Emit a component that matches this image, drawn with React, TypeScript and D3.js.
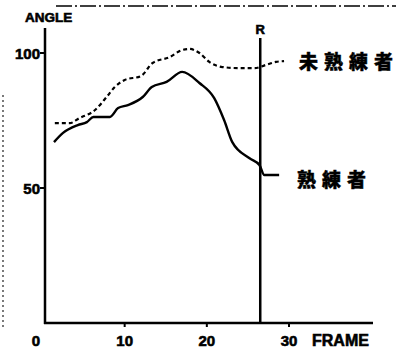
import React from "react";
import * as d3 from "d3";

const skilledFrames = [1.4, 2.5, 4.3, 5.4, 6.2, 8.2, 9.2, 10.4, 12.2, 13.3, 15.1, 17, 19.1, 20.9, 22.1, 23.1, 25.2, 26.4, 27, 28.8];
const skilledAngles = [67, 70.4, 73.3, 74.4, 76.3, 76.3, 79.6, 80.7, 83.7, 87.4, 89.3, 93, 88.9, 83.3, 75.2, 67, 61, 58.5, 54.8, 54.8];

const unskilledFrames = [1.5, 3.3, 4.5, 6.4, 7.8, 8.8, 10, 12, 13.4, 15.5, 16.9, 17.9, 19.1, 20.3, 21.9, 23.9, 25.8, 27.2, 28.4, 29.4];
const unskilledAngles = [74, 74, 75.9, 78.9, 83.7, 87.4, 90, 91.5, 96.3, 98.5, 101, 101.5, 100, 96.7, 94.8, 94.4, 94.4, 95.6, 96.7, 97];

const xTicks = [0, 10, 20, 30];
const yTicks = [50, 100];
const releaseFrame = 26.5;
const seriesLabels = ["未熟練者", "熟練者"];

export default function App() {
  const x = d3.scaleLinear().domain([0, 30]).range([42.5, 289]);
  const y = d3.scaleLinear().domain([0, 100]).range([323, 53]);
  const line = d3
    .line<[number, number]>()
    .x((d) => x(d[0]))
    .y((d) => y(d[1]))
    .curve(d3.curveMonotoneX);
  const skilled = skilledFrames.map((f, i) => [f, skilledAngles[i]] as [number, number]);
  const unskilled = unskilledFrames.map((f, i) => [f, unskilledAngles[i]] as [number, number]);
  const axisX = 45;
  const font = "'Liberation Sans', Arial, sans-serif";
  const cjk = "'Noto Sans CJK JP', sans-serif";
  const rx = x(releaseFrame);
  const bold = { fontFamily: font, fontWeight: 700 as const, stroke: "#000", strokeWidth: 0.6 };
  return (
    <svg width={404} height={349} style={{ position: "absolute", left: 0, top: 0, background: "#fff" }}>
      {/* scan artifacts */}
      <line x1={56} x2={396} y1={6} y2={6} stroke="#000" strokeWidth={1.3} strokeDasharray="16,3,2,3" />
      <line x1={3} x2={3} y1={95} y2={330} stroke="#222" strokeWidth={1.2} strokeDasharray="2,3" />
      {/* axes */}
      <line x1={axisX} x2={axisX} y1={28} y2={324} stroke="#000" strokeWidth={2.5} />
      <line x1={axisX - 1} x2={373} y1={323} y2={323} stroke="#000" strokeWidth={2.5} />
      {yTicks.map((t) => (
        <g key={t}>
          <line x1={axisX - 5} x2={axisX} y1={y(t)} y2={y(t)} stroke="#000" strokeWidth={2} />
          <text x={axisX - 5} y={y(t) + 5.5} textAnchor="end" fontSize={15} {...bold}>
            {t}
          </text>
        </g>
      ))}
      {xTicks.map((t) => (
        <g key={t}>
          {t > 0 && <line x1={x(t)} x2={x(t)} y1={323} y2={327} stroke="#000" strokeWidth={2} />}
          <text x={t === 0 ? 36 : x(t)} y={345.5} textAnchor="middle" fontSize={15} {...bold}>
            {t}
          </text>
        </g>
      ))}
      <text x={25} y={22} fontSize={13.5} {...bold}>
        ANGLE
      </text>
      <text x={312} y={345.5} fontSize={16} {...bold}>
        FRAME
      </text>
      {/* release line */}
      <line x1={rx} x2={rx} y1={38} y2={323} stroke="#000" strokeWidth={2.5} />
      <text x={rx} y={34} textAnchor="middle" fontSize={13} {...bold}>
        R
      </text>
      {/* series */}
      <path d={line(unskilled) || ""} fill="none" stroke="#000" strokeWidth={2.2} strokeDasharray="4,3" />
      <path d={line(skilled) || ""} fill="none" stroke="#000" strokeWidth={2.4} />
      <text x={299} y={69} fontFamily={cjk} fontWeight={900} fontSize={19} letterSpacing={6} stroke="#000" strokeWidth={0.4}>
        {seriesLabels[0]}
      </text>
      <text x={297} y={187} fontFamily={cjk} fontWeight={900} fontSize={19} letterSpacing={6} stroke="#000" strokeWidth={0.4}>
        {seriesLabels[1]}
      </text>
    </svg>
  );
}
